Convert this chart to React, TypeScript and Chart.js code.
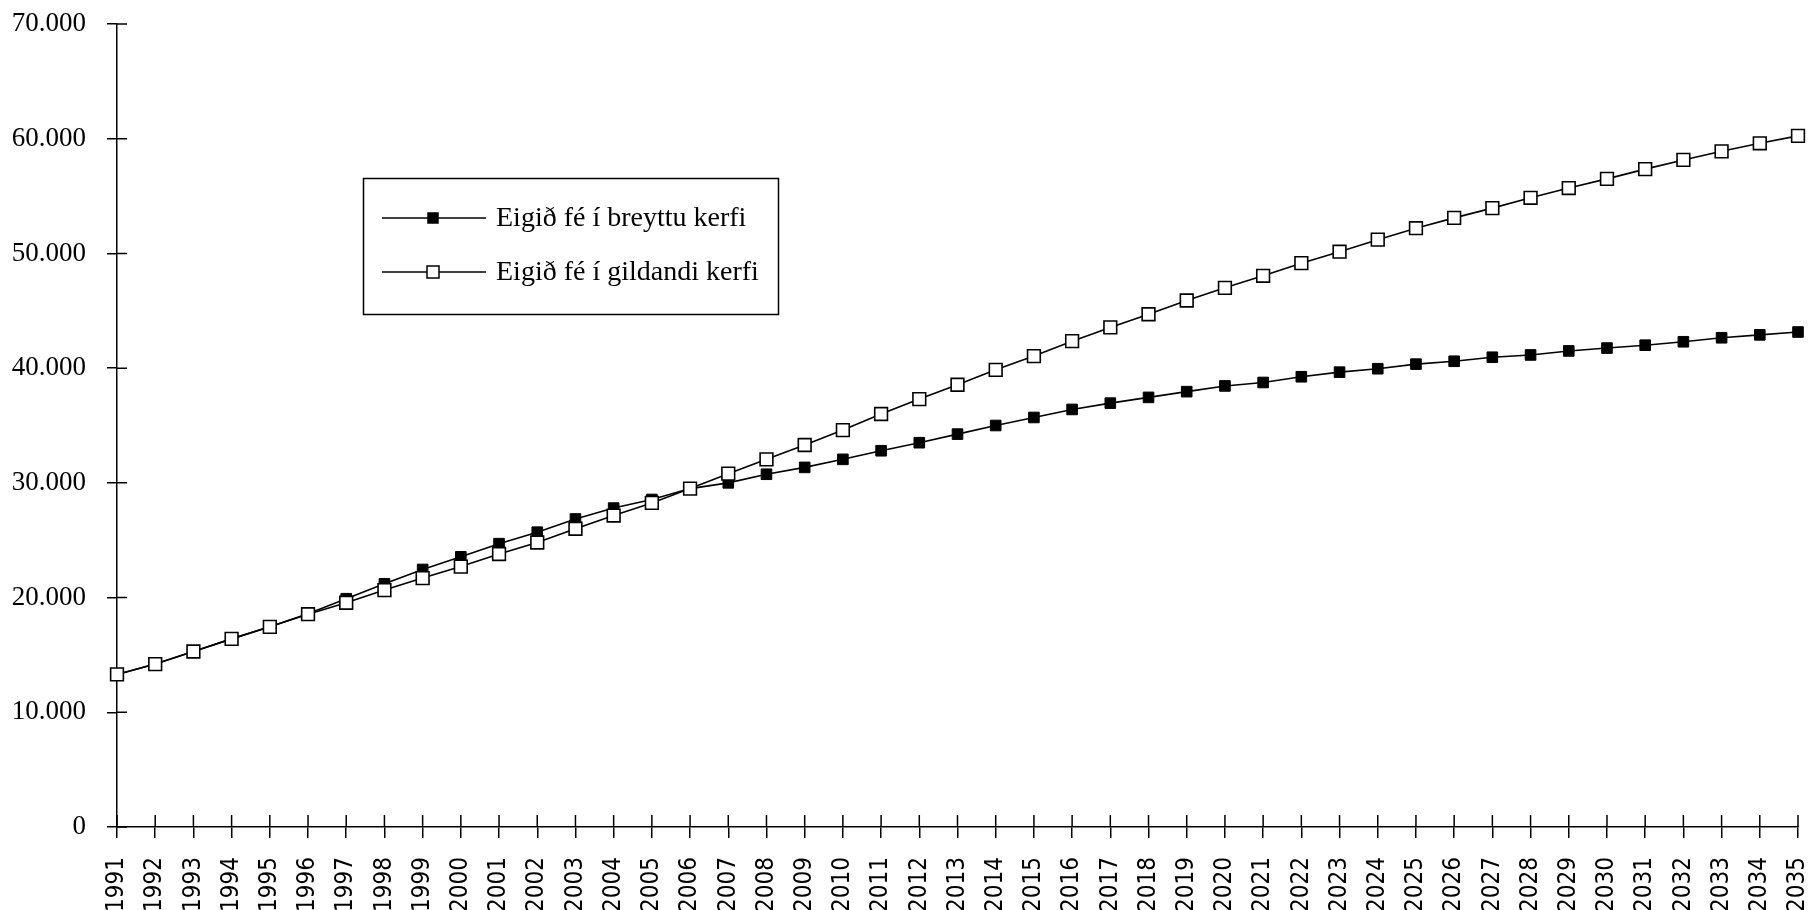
import React, { useEffect, useRef } from "react";
import { Chart, registerables } from "chart.js";

Chart.register(...registerables);

const years: string[] = [
  "1991", "1992", "1993", "1994", "1995", "1996", "1997", "1998", "1999", "2000",
  "2001", "2002", "2003", "2004", "2005", "2006", "2007", "2008", "2009", "2010",
  "2011", "2012", "2013", "2014", "2015", "2016", "2017", "2018", "2019", "2020",
  "2021", "2022", "2023", "2024", "2025", "2026", "2027", "2028", "2029", "2030",
  "2031", "2032", "2033", "2034", "2035",
];

const breyttuLabel = "Eigið fé í breyttu kerfi";
const breyttu: number[] = [
  13300, 14200, 15300, 16400, 17450, 18600, 19900, 21200, 22450, 23550,
  24700, 25700, 26850, 27800, 28550, 29500, 30000, 30750, 31350, 32050,
  32800, 33500, 34250, 35000, 35700, 36400, 36950, 37450, 37950, 38450,
  38750, 39250, 39650, 39950, 40350, 40600, 40950, 41150, 41500, 41750,
  42000, 42300, 42650, 42900, 43150,
];

const gildandiLabel = "Eigið fé í gildandi kerfi";
const gildandi: number[] = [
  13300, 14200, 15300, 16400, 17450, 18550, 19550, 20650, 21700, 22700,
  23800, 24800, 26000, 27150, 28250, 29500, 30800, 32050, 33300, 34600,
  36000, 37300, 38550, 39850, 41050, 42350, 43550, 44700, 45900, 47000,
  48050, 49150, 50150, 51200, 52200, 53100, 53950, 54850, 55700, 56500,
  57350, 58150, 58900, 59600, 60250,
];

const yMin = 0;
const yMax = 70000;
const yStep = 10000;

const fmt = (v: number) =>
  String(v).replace(/\B(?=(\d{3})+(?!\d))/g, ".");

const innerTicks = {
  id: "innerTicks",
  afterDraw(chart: any) {
    const ctx = chart.ctx;
    const xs = chart.scales.x;
    const ys = chart.scales.y;
    const area = chart.chartArea;
    ctx.save();
    ctx.strokeStyle = "#000";
    ctx.lineWidth = 1.5;
    ctx.beginPath();
    xs.ticks.forEach((_: any, i: number) => {
      const px = xs.getPixelForTick(i);
      ctx.moveTo(px, area.bottom);
      ctx.lineTo(px, area.bottom - 12);
    });
    ys.ticks.forEach((_: any, i: number) => {
      const py = ys.getPixelForTick(i);
      ctx.moveTo(area.left, py);
      ctx.lineTo(area.left + 10, py);
    });
    ctx.stroke();
    ctx.restore();
  },
};

const boxLegend = {
  id: "boxLegend",
  afterDraw(chart: any) {
    const ctx = chart.ctx;
    const left = 363;
    const top = 178;
    const w = 415;
    const h = 136;
    ctx.save();
    ctx.strokeStyle = "#000";
    ctx.lineWidth = 1.5;
    ctx.strokeRect(left + 0.5, top + 0.5, w, h);
    const rows = [218, 272];
    chart.data.datasets.forEach((ds: any, i: number) => {
      const y = rows[i];
      ctx.strokeStyle = "#000";
      ctx.lineWidth = 1.5;
      ctx.beginPath();
      ctx.moveTo(382, y);
      ctx.lineTo(486, y);
      ctx.stroke();
      const s = i === 0 ? 10 : 12;
      ctx.fillStyle = ds.pointBackgroundColor;
      ctx.fillRect(433 - s / 2, y - s / 2, s, s);
      ctx.strokeRect(433 - s / 2, y - s / 2, s, s);
      ctx.fillStyle = "#000";
      ctx.font = '28px "Liberation Serif", "Times New Roman", serif';
      ctx.textBaseline = "middle";
      ctx.textAlign = "left";
      ctx.fillText(ds.label, 496, y + 1);
    });
    ctx.restore();
  },
};

export default function App() {
  const ref = useRef<HTMLCanvasElement | null>(null);

  useEffect(() => {
    if (!ref.current) return;
    const chart = new Chart(ref.current, {
      type: "line",
      data: {
        labels: years,
        datasets: [
          {
            label: breyttuLabel,
            data: breyttu,
            borderColor: "#000",
            borderWidth: 1.6,
            pointStyle: "rect",
            pointRadius: 7.5,
            pointBackgroundColor: "#000",
            pointBorderColor: "#000",
            pointBorderWidth: 1,
            tension: 0,
            order: 1,
            clip: false,
          } as any,
          {
            label: gildandiLabel,
            data: gildandi,
            borderColor: "#000",
            borderWidth: 1.6,
            pointStyle: "rect",
            pointRadius: 9,
            pointBackgroundColor: "#fff",
            pointBorderColor: "#000",
            pointBorderWidth: 1.6,
            tension: 0,
            order: 0,
            clip: false,
          } as any,
        ],
      },
      options: {
        animation: false,
        responsive: true,
        maintainAspectRatio: false,
        layout: { padding: { left: 0, right: 11, top: 24, bottom: 0 } },
        plugins: {
          legend: { display: false },
          tooltip: { enabled: false },
        },
        scales: {
          x: {
            type: "category",
            offset: false,
            afterFit: (scale: any) => {
              scale.height = 83;
              scale.paddingLeft = 0;
              scale.paddingRight = 0;
              scale.paddingTop = 0;
              scale.paddingBottom = 0;
            },
            border: { display: true, color: "#000", width: 1.5 },
            grid: {
              display: true,
              drawOnChartArea: false,
              drawTicks: true,
              tickLength: 11,
              color: "#000",
              lineWidth: 1.5,
            },
            ticks: {
              autoSkip: false,
              minRotation: 90,
              maxRotation: 90,
              padding: 19,
              color: "#000",
              font: {
                family: '"DejaVu Sans Condensed", "Liberation Sans Narrow", sans-serif',
                size: 24,
              },
            },
          },
          y: {
            type: "linear",
            min: yMin,
            max: yMax,
            afterFit: (scale: any) => {
              scale.width = 117;
              scale.paddingLeft = 0;
              scale.paddingRight = 0;
              scale.paddingTop = 0;
              scale.paddingBottom = 0;
            },
            border: { display: true, color: "#000", width: 1.5 },
            grid: {
              display: true,
              drawOnChartArea: false,
              drawTicks: true,
              tickLength: 10,
              color: "#000",
              lineWidth: 1.5,
            },
            ticks: {
              stepSize: yStep,
              padding: 21,
              color: "#000",
              font: {
                family: '"Liberation Serif", "Times New Roman", serif',
                size: 27,
              },
              callback: (v: any) => fmt(Number(v)),
            },
          },
        },
      },
      plugins: [innerTicks, boxLegend],
    });
    return () => chart.destroy();
  }, []);

  return (
    <div
      style={{
        position: "absolute",
        left: 0,
        top: 0,
        width: 1809,
        height: 910,
        background: "#fff",
      }}
    >
      <canvas ref={ref} />
    </div>
  );
}
